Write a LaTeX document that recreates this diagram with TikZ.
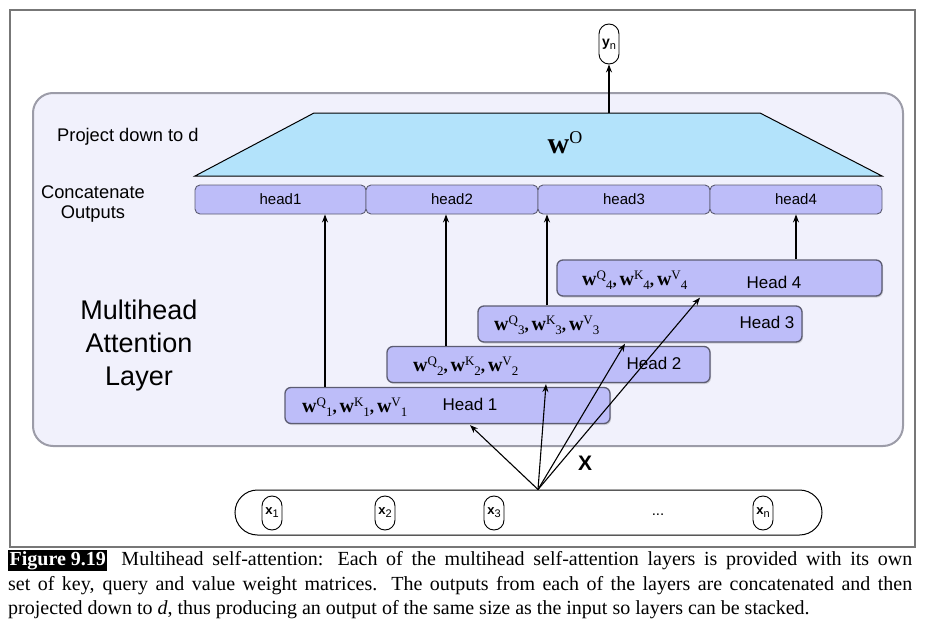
\documentclass[tikz,border=0pt]{standalone}
\usepackage{fontspec}
\setmainfont{Liberation Sans}
\newfontfamily\tms{Liberation Serif}
\usetikzlibrary{arrows.meta,shadows,calc}
\definecolor{panelfill}{HTML}{F1F1FC}
\definecolor{panelborder}{HTML}{9C9CA8}
\definecolor{headfill}{HTML}{BDBDF9}
\definecolor{headborder}{HTML}{5C5C72}
\definecolor{trapfill}{HTML}{B3E3FB}
\definecolor{framegray}{HTML}{777777}
\newcommand{\wcomma}{{\tms\fontsize{17}{18}\selectfont\bfseries ,\,}}
\newcommand{\wqkv}[1]{{\tms\fontsize{20}{20}\selectfont\bfseries w}{\tms\fontsize{13}{14}\selectfont\raisebox{6pt}{Q}\raisebox{-4pt}{#1}}\wcomma{\tms\fontsize{20}{20}\selectfont\bfseries w}{\tms\fontsize{13}{14}\selectfont\raisebox{6pt}{K}\raisebox{-4pt}{#1}}\wcomma{\tms\fontsize{20}{20}\selectfont\bfseries w}{\tms\fontsize{13}{14}\selectfont\raisebox{6pt}{V}\raisebox{-4pt}{#1}}}
\begin{document}
\begin{tikzpicture}[x=1pt,y=-1pt,
  arr/.style={-{Stealth[length=8pt,width=6pt]},line width=1.1pt},
  catbox/.style={draw=headborder,fill=headfill,rounded corners=5pt,line width=0.9pt,minimum height=29pt,inner sep=0pt,font=\fontsize{15}{16}\selectfont},
  layerbox/.style={draw=headborder,fill=headfill,rounded corners=6pt,line width=1.3pt,minimum height=36pt,inner sep=0pt,drop shadow={opacity=0.3,shadow xshift=1pt,shadow yshift=-1.5pt}},
  pill/.style={draw,fill=white,rounded corners=10pt,line width=0.9pt,minimum width=20pt,minimum height=34pt,inner sep=0pt},
  lbl/.style={inner sep=0pt,font=\fontsize{18.3}{19}\selectfont},
  headlbl/.style={inner sep=0pt,font=\fontsize{17}{18}\selectfont},
  wlbl/.style={inner sep=0pt,anchor=west}
]
\useasboundingbox (0,0) rectangle (930,629);
% outer frame
\draw[framegray,line width=1.2pt] (10,10) rectangle (915,547);
% inner panel
\node[draw=panelborder,fill=panelfill,line width=2pt,rounded corners=20pt,minimum width=870pt,minimum height=353pt,inner sep=0pt] (panel) at (468,269.5) {};
% output node
\node[pill,minimum height=40pt] (yn) at (609,44) {\textbf{\fontsize{14}{15}\selectfont y}{\fontsize{11}{12}\selectfont\raisebox{-3pt}{n}}};
% trapezoid
\filldraw[fill=trapfill,draw=black,line width=1pt] (195,176) -- (314,113) coordinate (ttop) -- (760,113) -- (882,176) -- cycle;
\node[inner sep=0pt] (wo) at (565,143) {{\tms\fontsize{30}{30}\selectfont\bfseries w}{\tms\fontsize{18}{18}\selectfont\raisebox{10pt}{O}}};
\coordinate (tout) at (609,113);
\draw[arr] (tout) -- (yn.south);
% left labels
\node[lbl,anchor=west] (proj) at (57,137) {Project down to d};
\node[lbl,align=center] (concat) at (93,204) {Concatenate\\[1pt]Outputs};
\node[inner sep=0pt,align=center,font=\fontsize{27}{33}\selectfont] (mal) at (139,346) {Multihead\\Attention\\Layer};
% concat head boxes
\node[catbox,minimum width=171pt] (H1) at (280.5,199.5) {head1};
\node[catbox,minimum width=172pt] (H2) at (452,199.5) {head2};
\node[catbox,minimum width=172pt] (H3) at (624,199.5) {head3};
\node[catbox,minimum width=172pt] (H4) at (796,199.5) {head4};
% head layers
\node[layerbox,minimum width=325pt] (L4) at (719.5,278) {};
\node[layerbox,minimum width=324pt] (L3) at (640,324) {};
\node[layerbox,minimum width=323pt] (L2) at (548.5,364.5) {};
\node[layerbox,minimum width=325pt] (L1) at (447.5,405.5) {};
\node[wlbl] (w4) at (582,280) {\wqkv{4}};
\node[wlbl] (w3) at (494,325) {\wqkv{3}};
\node[wlbl] (w2) at (413,366) {\wqkv{2}};
\node[wlbl] (w1) at (302,407) {\wqkv{1}};
\node[headlbl] (t4) at (774,282) {Head 4};
\node[headlbl] (t3) at (767,322) {Head 3};
\node[headlbl] (t2) at (654,363) {Head 2};
\node[headlbl] (t1) at (470,404) {Head 1};
% vertical arrows
\coordinate (v1) at (325,0);
\coordinate (v2) at (446,0);
\coordinate (v3) at (547,0);
\coordinate (v4) at (796,0);
\draw[arr] (L1.north -| v1) -- (H1.south -| v1);
\draw[arr] (L2.north -| v2) -- (H2.south -| v2);
\draw[arr] (L3.north -| v3) -- (H3.south -| v3);
\draw[arr] (L4.north -| v4) -- (H4.south -| v4);
% input bar
\node[draw,fill=white,line width=1pt,rounded corners=22.5pt,minimum width=587pt,minimum height=45pt,inner sep=0pt] (inp) at (528.5,512.5) {};
\node[pill] (x1) at (272,513) {\textbf{\fontsize{13}{14}\selectfont x}{\fontsize{11}{12}\selectfont\raisebox{-3pt}{1}}};
\node[pill] (x2) at (385,513) {\textbf{\fontsize{13}{14}\selectfont x}{\fontsize{11}{12}\selectfont\raisebox{-3pt}{2}}};
\node[pill] (x3) at (494,513) {\textbf{\fontsize{13}{14}\selectfont x}{\fontsize{11}{12}\selectfont\raisebox{-3pt}{3}}};
\node[inner sep=0pt,font=\fontsize{15}{16}\selectfont] (dots) at (658,515) {...};
\node[pill] (xn) at (763,513) {\textbf{\fontsize{13}{14}\selectfont x}{\fontsize{11}{12}\selectfont\raisebox{-3pt}{n}}};
% X arrows
\coordinate (xs) at ($(inp.north)+(9.5,0)$);
\node[inner sep=0pt,font=\fontsize{21}{22}\selectfont\bfseries] (X) at (585,463) {X};
\coordinate (e1) at (470,0);
\coordinate (e2) at (546,0);
\coordinate (e3) at (625,0);
\coordinate (e4) at (700,0);
\draw[arr] (xs) -- ($(L1.south -| e1)+(0,1)$);
\draw[arr] (xs) -- ($(L2.south -| e2)+(0,1)$);
\draw[arr] (xs) -- ($(L3.south -| e3)+(0,1)$);
\draw[arr] (xs) -- ($(L4.south -| e4)+(0,1)$);
% caption
\node[anchor=north west,inner sep=0pt,text width=904pt,align=justify,font=\tms\fontsize{20}{24.5}\selectfont] (cap) at (8,550) {\setlength{\fboxsep}{1.5pt}\colorbox{black}{\textcolor{white}{\bfseries Figure 9.19}}\hspace*{14pt}Multihead self-attention: Each of the multihead self-attention layers is provided with its own\linebreak set of key, query and value weight matrices. The outputs from each of the layers are concatenated and then\linebreak projected down to \textit{d}, thus producing an output of the same size as the input so layers can be stacked.};
\end{tikzpicture}
\end{document}
